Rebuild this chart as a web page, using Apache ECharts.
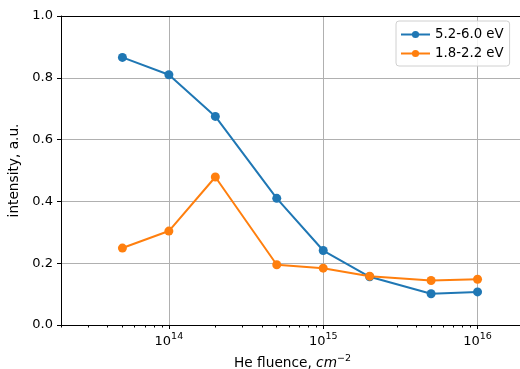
<!DOCTYPE html>
<html>
<head>
<meta charset="utf-8">
<script src="https://cdn.jsdelivr.net/npm/echarts@6/dist/echarts.min.js"></script>
<style>
  html, body { margin: 0; padding: 0; background: #fff; }
  #chart { width: 520px; height: 369px; }
</style>
</head>
<body>
<div id="chart"></div>
<script>
var fluence = [5e13, 1e14, 2e14, 5e14, 1e15, 2e15, 5e15, 1e16];
var highBand = [0.866, 0.81, 0.675, 0.41, 0.241, 0.156, 0.101, 0.107];
var lowBand = [0.249, 0.304, 0.479, 0.195, 0.184, 0.158, 0.144, 0.148];
var majorTicks = [1e14, 1e15, 1e16];

// minor ticks 2..9 x 10^n, like matplotlib
var minorTicks = [];
[13, 14, 15, 16].forEach(function (e) {
  for (var m = 2; m <= 9; m++) {
    var v = m * Math.pow(10, e);
    if (v >= 2e13 && v <= 2e16) minorTicks.push(v);
  }
});

function pairs(xs, ys) {
  return xs.map(function (x, i) { return [x, ys[i]]; });
}

var chart = echarts.init(document.getElementById("chart"));
var font = "DejaVu Sans";
var supStyle = { fontFamily: font, fontSize: 9.5, color: "#000", verticalAlign: "top", padding: [0, 0, 9, 0] };

var option = {
  animation: false,
  textStyle: { fontFamily: font },
  grid: {
    left: 61,
    top: 16,
    width: 463,
    height: 309,
    outerBoundsMode: "none",
    containLabel: false,
    show: false,
  },
  legend: {
    orient: "vertical",
    left: 396,
    top: 21,
    padding: [7, 6, 6, 4],
    itemWidth: 29,
    itemHeight: 9,
    itemGap: 6,
    backgroundColor: "rgba(255,255,255,0.85)",
    borderColor: "#d0d0d0",
    borderWidth: 1,
    borderRadius: 3,
    textStyle: { fontFamily: font, fontSize: 13.3, color: "#000" },
    data: ["5.2-6.0 eV", "1.8-2.2 eV"],
  },
  xAxis: [
    {
      type: "log",
      position: "bottom",
      min: 2e13,
      max: 2e16,
      name: "He fluence, {it|cm}{sup|−2}",
      nameLocation: "middle",
      nameGap: 29,
      nameTextStyle: {
        fontFamily: font,
        fontSize: 13.7,
        color: "#000",
        rich: {
          it: { fontFamily: font, fontSize: 13.7, fontStyle: "italic", color: "#000" },
          sup: supStyle,
        },
      },
      axisLine: { show: true, lineStyle: { color: "#000", width: 1 } },
      axisTick: { show: true, length: 4, customValues: majorTicks, lineStyle: { color: "#000" } },
      axisLabel: {
        customValues: majorTicks,
        margin: 7,
        color: "#000",
        fontFamily: font,
        fontSize: 13,
        formatter: function (v) {
          return "10{sup|" + Math.round(Math.log10(v)) + "}";
        },
        rich: { sup: supStyle },
      },
      splitLine: { show: true, lineStyle: { color: "#b0b0b0", width: 1 } },
    },
    {
      type: "log",
      position: "bottom",
      min: 2e13,
      max: 2e16,
      axisLine: { show: false },
      axisTick: { show: true, length: 2.5, customValues: minorTicks, lineStyle: { color: "#000" } },
      axisLabel: { show: false },
      splitLine: { show: false },
    },
    {
      // top spine
      type: "log",
      position: "top",
      min: 2e13,
      max: 2e16,
      axisLine: { show: true, lineStyle: { color: "#000", width: 1 } },
      axisTick: { show: false },
      axisLabel: { show: false },
      splitLine: { show: false },
    },
  ],
  yAxis: {
    type: "value",
    min: 0,
    max: 1,
    interval: 0.2,
    name: "intensity, a.u.",
    nameLocation: "middle",
    nameGap: 35,
    nameTextStyle: { fontFamily: font, fontSize: 13.7, color: "#000" },
    axisLine: { show: true, lineStyle: { color: "#000", width: 1 } },
    axisTick: { show: true, length: 4, lineStyle: { color: "#000" } },
    axisLabel: {
      margin: 8,
      color: "#000",
      fontFamily: font,
      fontSize: 13,
      formatter: function (v) { return v.toFixed(1); },
    },
    splitLine: { show: true, lineStyle: { color: "#b0b0b0", width: 1 } },
  },
  series: [
    {
      name: "5.2-6.0 eV",
      type: "line",
      xAxisIndex: 0,
      data: pairs(fluence, highBand),
      symbol: "circle",
      symbolSize: 9,
      color: "#1f77b4",
      lineStyle: { width: 2 },
    },
    {
      name: "1.8-2.2 eV",
      type: "line",
      xAxisIndex: 0,
      data: pairs(fluence, lowBand),
      symbol: "circle",
      symbolSize: 9,
      color: "#ff7f0e",
      lineStyle: { width: 2 },
    },
  ],
};

chart.setOption(option);
</script>
</body>
</html>
